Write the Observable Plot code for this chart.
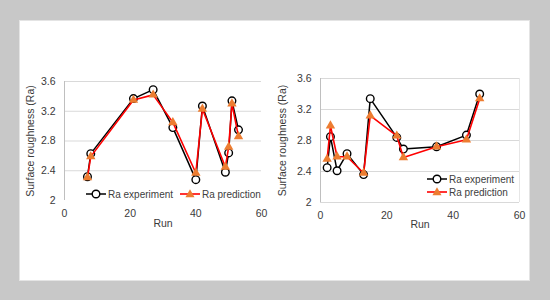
<!DOCTYPE html>
<html><head><meta charset="utf-8">
<script src="https://cdn.jsdelivr.net/npm/d3@7"></script>
<script src="https://cdn.jsdelivr.net/npm/@observablehq/plot@0.6"></script>
<style>
body{margin:0;width:550px;height:300px;background:#c8c8c8;position:relative;overflow:hidden;font-family:"Liberation Sans",Arial,sans-serif;}
#card{position:absolute;left:20px;top:21px;width:509px;height:259px;background:#fff;box-shadow:0 0 0 1px #e4e4e4;}
.panel{position:absolute;top:0;}
.lg{position:absolute;display:flex;align-items:center;height:12px;font-size:10px;color:#404040;white-space:nowrap;}
.lg svg{display:block;margin-right:2px;}
</style></head><body>
<div id="card"></div>
<div id="left" class="panel" style="left:0px"></div>
<div id="right" class="panel" style="left:270px"></div>
<script>
// Left panel data
const runsA = [7, 8, 21, 27, 33, 40, 42, 49, 50, 51, 53];
const expA  = [2.32, 2.63, 3.37, 3.49, 2.98, 2.28, 3.27, 2.38, 2.64, 3.34, 2.95];
const predA = [2.31, 2.59, 3.35, 3.42, 3.05, 2.37, 3.23, 2.45, 2.72, 3.30, 2.86];
// Right panel data
const runsB = [2, 3, 5, 8, 13, 15, 23, 25, 35, 44, 48];
const expB  = [2.45, 2.85, 2.41, 2.63, 2.36, 3.34, 2.84, 2.69, 2.72, 2.87, 3.40];
const predB = [2.56, 2.99, 2.59, 2.59, 2.38, 3.12, 2.86, 2.58, 2.72, 2.81, 3.34];

const xTicks = [0, 20, 40, 60];
const yTicks = [2, 2.4, 2.8, 3.2, 3.6];
const yTickLabels = ["2", "2.4", "2.8", "3.2", "3.6"];
const seriesNames = ["Ra experiment", "Ra prediction"];
const xTitle = "Run";
const yTitle = "Surface roughness (Ra)";

const TXT = "#3a3a3a";
const GRID = "#d9d9d9";
const AXIS = "#bfbfbf";
const EXP_COLOR = "#000000";
const PRED_LINE = "#ff0000";
const PRED_MARK = "#ed7d31";

function panel(runs, exp, pred, o) {
  const dExp = runs.map((r, i) => ({run: r, v: exp[i]}));
  const dPred = runs.map((r, i) => ({run: r, v: pred[i]}));
  const fmt = d => yTickLabels[yTicks.indexOf(d)] ?? String(d);
  const marks = [
    Plot.ruleY(o.gridTicks, {stroke: GRID, strokeWidth: 1}),
    Plot.ruleX([0], {stroke: AXIS, strokeWidth: 1}),
  ];
  if (o.rightEdge) marks.push(Plot.ruleX([60], {stroke: "#e6e6e6", strokeWidth: 1}));
  marks.push(
    Plot.axisY({ticks: yTicks, tickSize: 0, tickPadding: 9, tickFormat: fmt, label: yTitle,
      labelAnchor: "center", labelArrow: "none", labelOffset: o.yLabelOffset, fill: TXT}),
    Plot.axisX({ticks: xTicks, tickSize: 0, tickPadding: 9, tickFormat: d => String(d), label: xTitle,
      labelAnchor: "center", labelArrow: "none", labelOffset: o.xLabelOffset, fill: TXT}),
    Plot.line(dExp, {x: "run", y: "v", stroke: EXP_COLOR, strokeWidth: 1.5}),
    Plot.dot(dExp, {x: "run", y: "v", r: 3.8, stroke: EXP_COLOR, strokeWidth: 1.4, fill: "#fff"}),
    Plot.line(dPred, {x: "run", y: "v", stroke: PRED_LINE, strokeWidth: 1.6}),
    Plot.dot(dPred, {x: "run", y: "v", symbol: "triangle", r: 3.5, fill: PRED_MARK, stroke: "none"})
  );
  return Plot.plot({
    width: 280, height: 300,
    marginLeft: o.ml, marginRight: o.mr, marginTop: o.mt, marginBottom: o.mb,
    x: {domain: [0, 60]},
    y: {domain: [2, 3.6]},
    style: {fontFamily: '"Liberation Sans", Arial, sans-serif', fontSize: "10.5px", color: TXT, background: "transparent", overflow: "visible"},
    marks
  });
}

document.getElementById("left").append(panel(runsA, expA, predA, {
  ml: 64, mr: 19, mt: 81, mb: 100, gridTicks: [2.4, 2.8, 3.2, 3.6], yLabelOffset: 38, xLabelOffset: 26, rightEdge: false
}));
document.getElementById("right").append(panel(runsB, expB, predB, {
  ml: 50, mr: 31, mt: 78, mb: 98, gridTicks: [2, 2.4, 2.8, 3.2, 3.6], yLabelOffset: 42, xLabelOffset: 25, rightEdge: true
}));

function legendEntry(x, yc, name, kind) {
  const div = document.createElement("div");
  div.className = "lg";
  div.style.left = x + "px";
  div.style.top = (yc - 6) + "px";
  const ns = "http://www.w3.org/2000/svg";
  const svg = document.createElementNS(ns, "svg");
  svg.setAttribute("width", 20); svg.setAttribute("height", 12);
  const line = document.createElementNS(ns, "line");
  line.setAttribute("x1", 0); line.setAttribute("x2", 20);
  line.setAttribute("y1", 6); line.setAttribute("y2", 6);
  line.setAttribute("stroke", kind === "exp" ? EXP_COLOR : PRED_LINE);
  line.setAttribute("stroke-width", kind === "exp" ? 1.5 : 1.6);
  svg.append(line);
  if (kind === "exp") {
    const c = document.createElementNS(ns, "circle");
    c.setAttribute("cx", 10); c.setAttribute("cy", 6); c.setAttribute("r", 3.8);
    c.setAttribute("fill", "#fff"); c.setAttribute("stroke", EXP_COLOR); c.setAttribute("stroke-width", 1.4);
    svg.append(c);
  } else {
    const p = document.createElementNS(ns, "path");
    p.setAttribute("d", d3.symbol(d3.symbolTriangle, 36)());
    p.setAttribute("transform", "translate(10,6.5)");
    p.setAttribute("fill", PRED_MARK);
    svg.append(p);
  }
  const span = document.createElement("span");
  span.textContent = name;
  div.append(svg, span);
  document.body.append(div);
}
legendEntry(86, 194, seriesNames[0], "exp");
legendEntry(180, 194, seriesNames[1], "pred");
legendEntry(427, 179, seriesNames[0], "exp");
legendEntry(427, 192, seriesNames[1], "pred");
</script>
</body></html>
